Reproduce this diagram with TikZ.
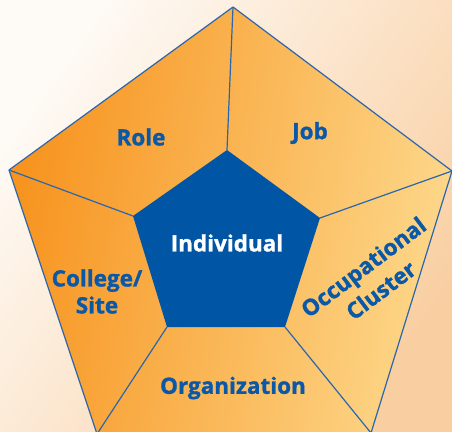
\documentclass[tikz,border=0pt]{standalone}
\usepackage{fontspec}
\setmainfont[BoldFeatures={FakeBold=1.2}]{Open Sans}
\begin{document}
\begin{tikzpicture}[x=1pt,y=-1pt,
  edge/.style={draw=edgeblue,line width=1.2pt,line join=round},
  lbl/.style={font=\fontsize{22.5}{27}\selectfont\bfseries,text=textblue,align=center,inner sep=0pt}]
\definecolor{edgeblue}{HTML}{2A66AE}
\definecolor{textblue}{HTML}{0A58A8}
\definecolor{coreblue}{HTML}{0055A4}
\definecolor{orangeD}{HTML}{F7931E}
\definecolor{orangeL}{HTML}{FDD88B}
\definecolor{bgW}{HTML}{FEFAF5}
\definecolor{bgP}{HTML}{F9CFA2}
\useasboundingbox (0,0) rectangle (452,431);
\clip (0,0) rectangle (452,431);
\shade[top color=bgW,bottom color=bgP,shading angle=55] (0,0) rectangle (452,431);
% outer vertices
\coordinate (oT) at (233,7);
\coordinate (oR) at (452,171);
\coordinate (oBR) at (371,433);
\coordinate (oBL) at (97,434);
\coordinate (oL) at (9,170);
% inner vertices
\coordinate (iT) at (227,150);
\coordinate (iR) at (320,218);
\coordinate (iBR) at (285,327);
\coordinate (iBL) at (167,327);
\coordinate (iL) at (133,216);
\shade[left color=orangeD,right color=orangeL,shading angle=80] (oT) -- (oR) -- (oBR) -- (oBL) -- (oL) -- cycle;
\draw[edge] (oT) -- (oR) -- (oBR) -- (oBL) -- (oL) -- cycle;
\draw[edge] (oT) -- (iT);
\draw[edge] (oR) -- (iR);
\draw[edge] (oBR) -- (iBR);
\draw[edge] (oBL) -- (iBL);
\draw[edge] (oL) -- (iL);
\fill[coreblue] (iT) -- (iR) -- (iBR) -- (iBL) -- (iL) -- cycle;
\node[lbl] (role) at (141,137) {Role};
\node[lbl] (job) at (310,133) {Job};
\node[lbl,text=white] (ind) at (227,243) {Individual};
\node[lbl] (coll) at (97,291.5) {College/\\Site};
\node[lbl] (org) at (233,388) {Organization};
\node[lbl,rotate=37,font=\fontsize{22.5}{29}\selectfont\bfseries] (occ) at (372,278.5) {Occupational\\Cluster};
\end{tikzpicture}
\end{document}
